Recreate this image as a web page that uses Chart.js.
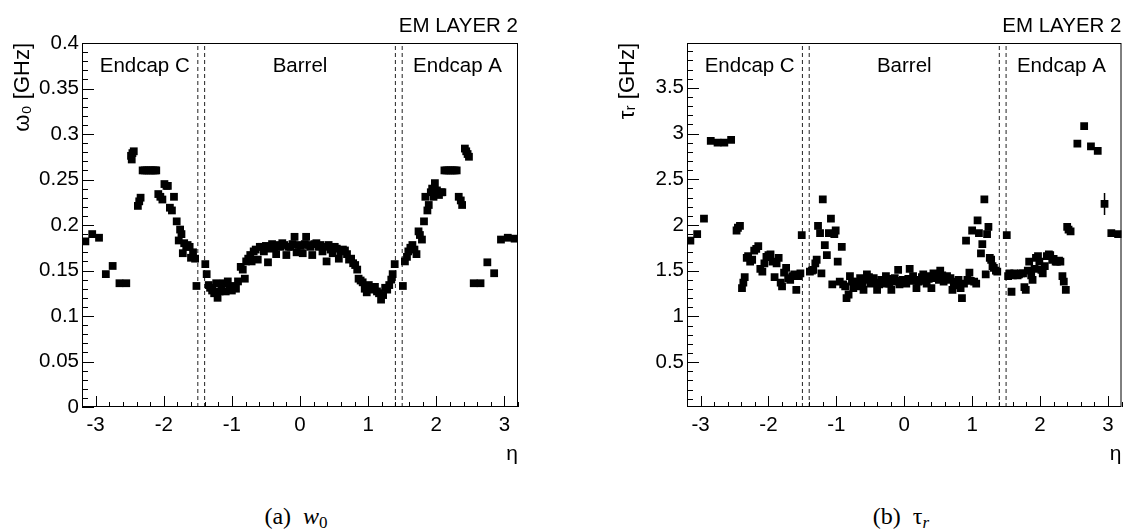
<!DOCTYPE html>
<html>
<head>
<meta charset="utf-8">
<script src="https://cdn.jsdelivr.net/npm/chart.js@4.4.1/dist/chart.umd.min.js"></script>
<style>
    body { margin: 0; background: #fff; width: 1127px; height: 531px; position: relative; overflow: hidden; }
    canvas { position: absolute; top: 0; }
    #omegaChart { left: 0; }
    #tauChart { left: 563px; }
    .caption { position: absolute; top: 503px; width: 200px; text-align: center; font-family: 'Liberation Serif', 'Times New Roman', serif; font-size: 24px; color: #000; }
    .caption sub { font-size: 17px; vertical-align: -4px; line-height: 0; }
</style>
</head>
<body>
<canvas id="omegaChart" width="563" height="470"></canvas>
<canvas id="tauChart" width="564" height="470"></canvas>
<div class="caption" style="left:196px">(a)&nbsp; <i>w</i><sub>0</sub></div>
<div class="caption" style="left:801px">(b)&nbsp; &tau;<sub><i>r</i></sub></div>
<script>
// tick labels
var etaTicks = [-3, -2, -1, 0, 1, 2, 3];
var omegaTicks = [0, 0.05, 0.1, 0.15, 0.2, 0.25, 0.3, 0.35, 0.4];
var tauTicks = [0.5, 1, 1.5, 2, 2.5, 3, 3.5];

// detector boundaries and region names
var boundaries = [-1.5, -1.4, 1.4, 1.5];
var regionNames = ['Endcap C', 'Barrel', 'Endcap A'];
var regionEta = [-2.94, 0, 1.66];
var regionAlign = ['left', 'center', 'left'];

// (a) w0 vs eta
var omegaEta = [
    -3.15, -3.05, -2.95, -2.85, -2.75, -2.65, -2.55,
    -2.48, -2.47, -2.46, -2.44, -2.38, -2.36, -2.34, -2.31, -2.28, -2.25, -2.22, -2.19, -2.16, -2.13, -2.11,
    -2.08, -2.05, -2.02, -1.99, -1.96, -1.94, -1.91, -1.88, -1.85, -1.81, -1.78, -1.76, -1.74, -1.72, -1.70,
    -1.67, -1.65, -1.62, -1.60, -1.57, -1.54, -1.52,
    -1.39, -1.37, -1.34, -1.32, -1.29, -1.26, -1.23, -1.21, -1.18, -1.15, -1.12, -1.09, -1.06, -1.03, -1.00,
    -0.97, -0.94, -0.91, -0.87, -0.84, -0.81, -0.79, -0.76, -0.73, -0.71, -0.68, -0.65, -0.62, -0.59, -0.56,
    -0.53, -0.50, -0.47, -0.44, -0.41, -0.38, -0.35, -0.32, -0.29, -0.26, -0.23, -0.20, -0.17, -0.14, -0.11,
    -0.08, -0.05, -0.02, 0.01, 0.04, 0.07, 0.09, 0.12, 0.15, 0.18, 0.21, 0.24, 0.27, 0.30, 0.33, 0.36, 0.39,
    0.42, 0.45, 0.48, 0.51, 0.54, 0.57, 0.60, 0.63, 0.66, 0.69, 0.72, 0.75, 0.78, 0.81, 0.84, 0.86, 0.89,
    0.92, 0.95, 0.98, 1.01, 1.04, 1.07, 1.10, 1.13, 1.16, 1.19, 1.22, 1.25, 1.28, 1.31, 1.34, 1.36, 1.39,
    1.51, 1.54, 1.57, 1.59, 1.62, 1.65, 1.68, 1.71, 1.74, 1.76, 1.79, 1.82, 1.84, 1.87, 1.89, 1.92, 1.94,
    1.96, 1.98, 2.01, 2.04, 2.07, 2.09, 2.12, 2.15, 2.18, 2.21, 2.24, 2.27, 2.30, 2.33, 2.36, 2.38, 2.42,
    2.44, 2.46, 2.48,
    2.55, 2.65, 2.75, 2.85, 2.95, 3.05, 3.15
];
var omegaVal = [
    0.182, 0.190, 0.186, 0.146, 0.155, 0.136, 0.136,
    0.276, 0.272, 0.279, 0.281, 0.221, 0.226, 0.230, 0.260, 0.260, 0.260, 0.260, 0.260, 0.260, 0.260, 0.260,
    0.234, 0.231, 0.228, 0.245, 0.243, 0.243, 0.219, 0.216, 0.231, 0.204, 0.183, 0.195, 0.190, 0.169, 0.180,
    0.176, 0.178, 0.176, 0.164, 0.170, 0.163, 0.133,
    0.157, 0.146, 0.134, 0.131, 0.128, 0.125, 0.136, 0.120, 0.127, 0.129, 0.136, 0.127, 0.138, 0.132, 0.128,
    0.133, 0.130, 0.138, 0.154, 0.151, 0.141, 0.160, 0.163, 0.167, 0.160, 0.171, 0.173, 0.162, 0.176, 0.176,
    0.171, 0.177, 0.159, 0.174, 0.179, 0.175, 0.168, 0.178, 0.176, 0.180, 0.178, 0.167, 0.176, 0.176, 0.179,
    0.187, 0.170, 0.178, 0.177, 0.169, 0.179, 0.187, 0.178, 0.176, 0.167, 0.179, 0.180, 0.176, 0.178, 0.171, 0.176, 0.160,
    0.178, 0.173, 0.169, 0.176, 0.174, 0.163, 0.171, 0.173, 0.172, 0.168, 0.162, 0.163, 0.158, 0.156, 0.151, 0.141, 0.139,
    0.137, 0.130, 0.126, 0.134, 0.130, 0.129, 0.132, 0.127, 0.125, 0.118, 0.123, 0.131, 0.129, 0.134, 0.140, 0.146, 0.157,
    0.133, 0.160, 0.165, 0.171, 0.175, 0.178, 0.173, 0.168, 0.193, 0.189, 0.184, 0.204, 0.231, 0.216, 0.222, 0.236, 0.240,
    0.231, 0.246, 0.238, 0.233, 0.236, 0.236, 0.260, 0.260, 0.260, 0.260, 0.260, 0.260, 0.260, 0.231, 0.227, 0.222, 0.284,
    0.281, 0.278, 0.275,
    0.136, 0.136, 0.159, 0.147, 0.184, 0.186, 0.185
];

// (b) tau_r vs eta
var tauEta = [
    -3.15, -3.05, -2.95, -2.85, -2.75, -2.65, -2.55,
    -2.47, -2.45, -2.42, -2.39, -2.37, -2.35, -2.32, -2.30, -2.27, -2.24, -2.21, -2.18, -2.15, -2.12, -2.09,
    -2.06, -2.03, -2.00, -1.97, -1.94, -1.91, -1.88, -1.85, -1.82, -1.80, -1.77, -1.74, -1.71, -1.68, -1.65,
    -1.62, -1.59, -1.56, -1.53, -1.51,
    -1.39, -1.36, -1.34, -1.31, -1.29, -1.27, -1.24, -1.22, -1.20, -1.17, -1.14, -1.11, -1.08, -1.06, -1.03,
    -1.01, -0.98, -0.95, -0.92, -0.90, -0.87, -0.85, -0.82, -0.80, -0.77, -0.75, -0.72, -0.70, -0.67, -0.65,
    -0.62, -0.60, -0.57, -0.55, -0.52, -0.50, -0.47, -0.45, -0.42, -0.40, -0.37, -0.34, -0.32, -0.29, -0.27,
    -0.24, -0.22, -0.19, -0.17, -0.14, -0.12, -0.09, -0.07, -0.04, -0.02, 0.01, 0.03, 0.06, 0.08, 0.11, 0.13,
    0.16, 0.18, 0.21, 0.23, 0.26, 0.28, 0.31, 0.33, 0.36, 0.38, 0.40, 0.43, 0.46, 0.48, 0.51, 0.53, 0.56,
    0.58, 0.61, 0.63, 0.66, 0.68, 0.71, 0.73, 0.76, 0.78, 0.80, 0.83, 0.85, 0.88, 0.91, 0.93, 0.96, 0.98,
    1.00, 1.03, 1.06, 1.08, 1.10, 1.13, 1.15, 1.18, 1.20, 1.22, 1.24, 1.26, 1.28, 1.30, 1.32, 1.35, 1.37,
    1.51, 1.53, 1.55, 1.58, 1.60, 1.62, 1.65, 1.67, 1.69, 1.72, 1.75, 1.77, 1.79, 1.82, 1.84, 1.87, 1.89,
    1.92, 1.94, 1.97, 1.99, 2.02, 2.04, 2.07, 2.10, 2.13, 2.15, 2.18, 2.20, 2.23, 2.25, 2.28, 2.30, 2.33,
    2.35, 2.38, 2.40, 2.42, 2.45,
    2.55, 2.65, 2.75, 2.85, 2.95, 3.05, 3.15
];
var tauVal = [
    1.83, 1.90, 2.07, 2.92, 2.90, 2.90, 2.93,
    1.94, 1.97, 1.99, 1.31, 1.37, 1.43, 1.64, 1.66, 1.60, 1.62, 1.72, 1.74, 1.77, 1.52, 1.49,
    1.58, 1.65, 1.67, 1.68, 1.60, 1.43, 1.58, 1.64, 1.37, 1.33, 1.48, 1.53, 1.42, 1.40, 1.44,
    1.46, 1.29, 1.44, 1.47, 1.89,
    1.49, 1.50, 1.51, 1.58, 1.62, 1.99, 1.91, 1.47, 2.28, 1.78, 1.67, 1.91, 2.07, 1.35, 1.90,
    1.94, 1.60, 1.38, 1.76, 1.35, 1.33, 1.20, 1.24, 1.44, 1.38, 1.31, 1.36, 1.38, 1.33, 1.42,
    1.37, 1.29, 1.40, 1.46, 1.43, 1.36, 1.39, 1.42, 1.37, 1.29, 1.35, 1.40, 1.38, 1.36, 1.44,
    1.41, 1.36, 1.29, 1.38, 1.42, 1.39, 1.51, 1.35, 1.37, 1.40, 1.38, 1.36, 1.41, 1.52, 1.39, 1.44,
    1.40, 1.31, 1.38, 1.40, 1.43, 1.46, 1.39, 1.36, 1.41, 1.44, 1.31, 1.47, 1.42, 1.44, 1.40, 1.50, 1.45,
    1.38, 1.42, 1.44, 1.40, 1.42, 1.29, 1.35, 1.38, 1.34, 1.40, 1.31, 1.20, 1.36, 1.83, 1.40, 1.48, 1.39,
    1.94, 1.38, 1.36, 2.05, 1.91, 1.69, 1.79, 2.28, 1.46, 1.90, 1.98, 1.64, 1.62, 1.55, 1.53, 1.50, 1.49,
    1.89, 1.44, 1.47, 1.27, 1.45, 1.47, 1.46, 1.45, 1.46, 1.47, 1.47, 1.32, 1.29, 1.50, 1.60, 1.45, 1.40,
    1.52, 1.64, 1.66, 1.60, 1.51, 1.47, 1.55, 1.66, 1.68, 1.67, 1.62, 1.63, 1.60, 1.60, 1.61, 1.60, 1.44,
    1.38, 1.29, 1.98, 1.95, 1.93,
    2.89, 3.08, 2.86, 2.81, 2.23, 1.91, 1.90
];
var tauErrEta = [2.95];
var tauErrSize = [0.12];

var FONT = 'Liberation Sans';
Chart.defaults.color = '#000';
Chart.defaults.font.family = FONT;

// ROOT style frame, inner ticks and text labels
var rootFrame = {
    id: 'rootFrame',
    afterDraw: function (chart, args, opts) {
        var ctx = chart.ctx;
        var a = chart.chartArea;
        var xs = chart.scales.x;
        var ys = chart.scales.y;
        ctx.save();
        ctx.strokeStyle = '#000';
        ctx.lineWidth = 1;
        ctx.strokeRect(a.left + 0.5, a.top + 0.5, a.right - a.left - 1, a.bottom - a.top - 1);

        ctx.beginPath();
        var k, v, px, major;
        for (k = Math.ceil(xs.min / opts.xMinor - 1e-6); k * opts.xMinor <= xs.max + 1e-9; k++) {
            v = k * opts.xMinor;
            major = etaTicks.some(function (t) { return Math.abs(t - v) < 1e-6; });
            px = Math.round(xs.getPixelForValue(v)) + 0.5;
            ctx.moveTo(px, a.bottom);
            ctx.lineTo(px, a.bottom - (major ? 11 : 5));
        }
        for (k = Math.ceil(ys.min / opts.yMinor - 1e-6); k * opts.yMinor <= ys.max + 1e-9; k++) {
            v = k * opts.yMinor;
            major = opts.yTicks.some(function (t) { return Math.abs(t - v) < 1e-6; });
            px = Math.round(ys.getPixelForValue(v)) + 0.5;
            ctx.moveTo(a.left, px);
            ctx.lineTo(a.left + (major ? 12 : 6), px);
        }
        ctx.stroke();

        ctx.fillStyle = '#000';
        ctx.font = '20.5px "' + FONT + '"';
        ctx.textBaseline = 'middle';
        ctx.textAlign = 'right';
        ctx.fillText('EM LAYER 2', a.right, 26);
        for (var i = 0; i < regionNames.length; i++) {
            ctx.textAlign = regionAlign[i];
            ctx.fillText(regionNames[i], xs.getPixelForValue(regionEta[i]), a.top + 23);
        }
        ctx.restore();
    }
};

function makeChart(id, eta, vals, yMin, yMax, yTicks, yMinor, yTitle, yWidth, titlePad, padRight, errEta, errSize) {
    var tickFont = { family: FONT, size: 20.5 };
    var datasets = [{
        data: eta.map(function (e, i) { return { x: e, y: vals[i] }; }),
        pointStyle: 'rect',
        pointRadius: 5.5,
        pointHoverRadius: 5.5,
        backgroundColor: '#000',
        borderWidth: 0
    }];
    errEta.forEach(function (e, i) {
        var c = vals[eta.indexOf(e)];
        datasets.push({
            data: [{ x: e, y: c - errSize[i] }, { x: e, y: c + errSize[i] }],
            showLine: true,
            borderColor: '#000',
            borderWidth: 1.5,
            pointRadius: 0
        });
    });
    boundaries.forEach(function (b) {
        datasets.push({
            data: [{ x: b, y: yMin }, { x: b, y: yMax }],
            showLine: true,
            borderColor: '#222',
            borderWidth: 1,
            borderDash: [4, 3],
            pointRadius: 0
        });
    });

    return new Chart(document.getElementById(id).getContext('2d'), {
        type: 'scatter',
        data: { datasets: datasets },
        plugins: [rootFrame],
        options: {
            responsive: false,
            animation: false,
            devicePixelRatio: 1,
            layout: { padding: { top: 43, right: padRight, left: 0, bottom: 0 } },
            plugins: {
                legend: { display: false },
                tooltip: { enabled: false },
                rootFrame: { xMinor: 0.2, yMinor: yMinor, yTicks: yTicks }
            },
            scales: {
                x: {
                    type: 'linear',
                    min: -3.2,
                    max: 3.2,
                    afterBuildTicks: function (s) { s.ticks = etaTicks.map(function (v) { return { value: v }; }); },
                    afterFit: function (s) { s.height = 63; },
                    grid: { display: false, drawTicks: false },
                    border: { display: false },
                    ticks: { autoSkip: false, maxRotation: 0, padding: 6, font: tickFont, color: '#000',
                        callback: function (v) { return String(v); } },
                    title: { display: true, text: 'η', align: 'end', color: '#000',
                        font: { family: FONT, size: 21 }, padding: { top: 0, bottom: 3 } }
                },
                y: {
                    type: 'linear',
                    min: yMin,
                    max: yMax,
                    afterBuildTicks: function (s) { s.ticks = yTicks.map(function (v) { return { value: v }; }); },
                    afterFit: function (s) { s.width = yWidth; },
                    grid: { display: false, drawTicks: false },
                    border: { display: false },
                    ticks: { autoSkip: false, padding: 3, font: tickFont, color: '#000',
                        callback: function (v) { return String(+v.toFixed(2)); } },
                    title: { display: true, text: yTitle, align: 'end', color: '#000',
                        font: { family: FONT, size: 22 }, padding: { top: titlePad, bottom: 0 } }
                }
            }
        }
    });
}

makeChart('omegaChart', omegaEta, omegaVal, 0, 0.4, omegaTicks, 0.01, 'ω₀ [GHz]', 82, 10, 45, [], []);
makeChart('tauChart', tauEta, tauVal, 0.01, 3.99, tauTicks, 0.1, 'τᵣ [GHz]', 124, 52, 4, tauErrEta, tauErrSize);
</script>
</body>
</html>
